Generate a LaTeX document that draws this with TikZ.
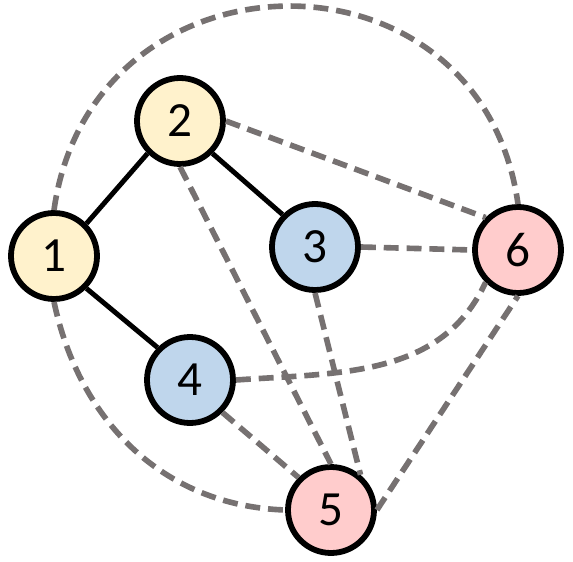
\documentclass[tikz,border=0pt]{standalone}
\usepackage{fontspec}
\setmainfont{Carlito}
\usetikzlibrary{arrows.meta, calc}
\definecolor{ink}{HTML}{767171}
\definecolor{ylwfill}{HTML}{FFF2CC}
\definecolor{blufill}{HTML}{BFD6EC}
\definecolor{pnkfill}{HTML}{FFCCCC}

\begin{document}
\begin{tikzpicture}[
  font=\fontsize{28}{30}\selectfont,
  vtx/.style ={circle, draw=black, line width=3.3pt, minimum size=17.2mm, inner sep=0pt},
  ylw/.style ={vtx, fill=ylwfill},
  blu/.style ={vtx, fill=blufill},
  pnk/.style ={vtx, fill=pnkfill},
  link/.style={draw=black, line width=2.8pt},
  dep/.style ={draw=ink, line width=3.2pt, dash pattern=on 8.5pt off 4.5pt}
]
\useasboundingbox (0,0) rectangle (11.46,11.22);

\node[ylw] (n1) at (1.08,6.10)  {1};
\node[ylw] (n2) at (3.60,8.80)  {2};
\node[blu] (n3) at (6.30,6.28)  {3};
\node[blu] (n4) at (3.80,3.62)  {4};
\node[pnk] (n5) at (6.62,1.02)  {5};
\node[pnk] (n6) at (10.36,6.22) {6};

% tree edges
\draw[link] (n1.north east) -- (n2.south west);
\draw[link] (n2.south east) -- (n3.north west);
\draw[link] (n1.south east) -- (n4.north west);

% the other pairs
\draw[dep] (n1.north) to[out=82, in=98, looseness=1.49] (n6.north);
\draw[dep] (n1.south) to[out=-78, in=178] (n5.west);
\draw[dep] (n4.east) to[out=4, in=-115] (n6.south west);
\draw[dep] (n2.east) -- (n6.north west);
\draw[dep] (n3.east) -- (n6.west);
\draw[dep] (n2.south) -- (n5.north);
\draw[dep] (n3.south) -- (n5.50);
\draw[dep] (n4.south east) -- (n5.north west);
\draw[dep] (n5.east) -- (n6.south);

\end{tikzpicture}
\end{document}
